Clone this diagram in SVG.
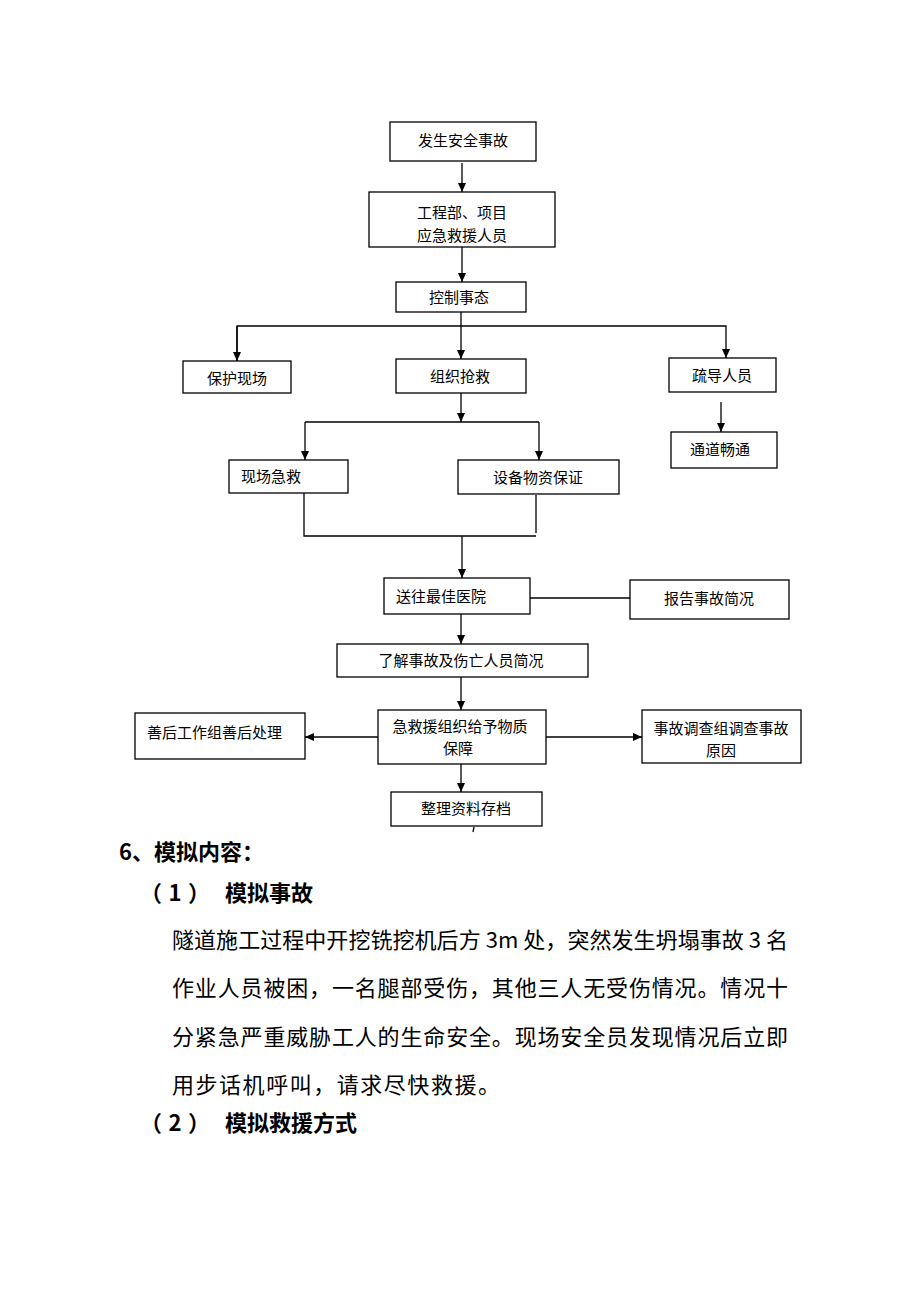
<svg xmlns="http://www.w3.org/2000/svg" width="920" height="1302" viewBox="0 0 920 1302">
<style>
.box{fill:#fff;stroke:#000;stroke-width:1.3}
.t{font-family:"Liberation Sans","Noto Sans CJK SC",sans-serif;font-size:15px;fill:#000;text-anchor:middle;dominant-baseline:central}
.tl{font-family:"Liberation Sans","Noto Sans CJK SC",sans-serif;font-size:15px;fill:#000;dominant-baseline:central}
.c{fill:none;stroke:#000;stroke-width:1.3}
.h{font-family:"Noto Sans CJK SC",sans-serif;font-size:22px;font-weight:bold;fill:#000}
.p{font-family:"Noto Sans CJK SC",sans-serif;font-size:22px;fill:#000}
</style>
<defs>
<marker id="ah" markerWidth="10" markerHeight="10" refX="9" refY="5" orient="auto" markerUnits="userSpaceOnUse">
<path d="M0,1 L9,5 L0,9 Z" fill="#000"/>
</marker>
</defs>
<rect width="920" height="1302" fill="#fff"/>
<g id="connectors">
<line class="c" x1="462" y1="163" x2="462" y2="192" marker-end="url(#ah)"/>
<line class="c" x1="462" y1="247" x2="462" y2="282" marker-end="url(#ah)"/>
<line class="c" x1="461" y1="312" x2="461" y2="359" marker-end="url(#ah)"/>
<polyline class="c" points="237,361 237,326 726,326 726,358" marker-end="url(#ah)"/>
<line class="c" x1="237" y1="326" x2="237" y2="361" marker-end="url(#ah)"/>
<line class="c" x1="461" y1="393" x2="461" y2="422" marker-end="url(#ah)"/>
<polyline class="c" points="305,422 539,422"/>
<line class="c" x1="305" y1="422" x2="305" y2="460" marker-end="url(#ah)"/>
<line class="c" x1="539" y1="422" x2="539" y2="460" marker-end="url(#ah)"/>
<line class="c" x1="721" y1="402" x2="721" y2="432" marker-end="url(#ah)"/>
<polyline class="c" points="304,493 304,536 536,536"/>
<line class="c" x1="536" y1="495" x2="536" y2="533"/>
<line class="c" x1="462" y1="536" x2="462" y2="578" marker-end="url(#ah)"/>
<line class="c" x1="530" y1="598" x2="630" y2="598"/>
<line class="c" x1="461" y1="614" x2="461" y2="644" marker-end="url(#ah)"/>
<line class="c" x1="461" y1="677" x2="461" y2="710" marker-end="url(#ah)"/>
<line class="c" x1="378" y1="737" x2="305" y2="737" marker-end="url(#ah)"/>
<line class="c" x1="546" y1="737" x2="642" y2="737" marker-end="url(#ah)"/>
<line class="c" x1="461" y1="764" x2="461" y2="792" marker-end="url(#ah)"/>
<line class="c" x1="474" y1="827" x2="473" y2="832" stroke-width="1"/>
</g>
<g id="n1"><rect class="box" x="390" y="122" width="146" height="39"/><text class="t" x="463" y="140">发生安全事故</text></g>
<g id="n2"><rect class="box" x="369" y="192" width="186" height="55"/><text class="t" x="462" y="212">工程部、项目</text><text class="t" x="462" y="235">应急救援人员</text></g>
<g id="n3"><rect class="box" x="396" y="282" width="130" height="30"/><text class="t" x="459" y="297">控制事态</text></g>
<g id="n4"><rect class="box" x="183" y="361" width="108" height="32"/><text class="t" x="237" y="378">保护现场</text></g>
<g id="n5"><rect class="box" x="396" y="359" width="130" height="34"/><text class="t" x="460" y="376">组织抢救</text></g>
<g id="n6"><rect class="box" x="669" y="358" width="107" height="34"/><text class="t" x="722" y="375">疏导人员</text></g>
<g id="n7"><rect class="box" x="671" y="432" width="106" height="36"/><text class="t" x="720" y="449">通道畅通</text></g>
<g id="n8"><rect class="box" x="229" y="460" width="119" height="33"/><text class="t" x="271" y="476">现场急救</text></g>
<g id="n9"><rect class="box" x="458" y="460" width="161" height="34"/><text class="t" x="538" y="477">设备物资保证</text></g>
<g id="n10"><rect class="box" x="384" y="578" width="146" height="36"/><text class="tl" x="396" y="596">送往最佳医院</text></g>
<g id="n11"><rect class="box" x="630" y="580" width="159" height="39"/><text class="t" x="709" y="598">报告事故简况</text></g>
<g id="n12"><rect class="box" x="337" y="644" width="251" height="33"/><text class="t" x="461" y="660">了解事故及伤亡人员简况</text></g>
<g id="n13"><rect class="box" x="378" y="710" width="168" height="54"/><text class="t" x="460" y="726">急救援组织给予物质</text><text class="t" x="458" y="748">保障</text></g>
<g id="n14"><rect class="box" x="135" y="713" width="170" height="46"/><text class="tl" x="147" y="732">善后工作组善后处理</text></g>
<g id="n15"><rect class="box" x="642" y="710" width="159" height="53"/><text class="t" x="721" y="728">事故调查组调查事故</text><text class="t" x="721" y="750">原因</text></g>
<g id="n16"><rect class="box" x="391" y="792" width="151" height="34"/><text class="t" x="466" y="808">整理资料存档</text></g>
<g id="body">
<text class="h" x="119" y="860">6、模拟内容：</text>
<text class="h" x="140" y="901"><tspan textLength="70" lengthAdjust="spacing">（1）</tspan><tspan x="225">模拟事故</tspan></text>
<text class="p" x="172" y="948" textLength="616" lengthAdjust="spacing">隧道施工过程中开挖铣挖机后方 3m 处，突然发生坍塌事故 3 名</text>
<text class="p" x="172" y="996" textLength="616" lengthAdjust="spacing">作业人员被困，一名腿部受伤，其他三人无受伤情况。情况十</text>
<text class="p" x="172" y="1045" textLength="616" lengthAdjust="spacing">分紧急严重威胁工人的生命安全。现场安全员发现情况后立即</text>
<text class="p" x="172" y="1093" textLength="328" lengthAdjust="spacing">用步话机呼叫，请求尽快救援。</text>
<text class="h" x="140" y="1131"><tspan textLength="70" lengthAdjust="spacing">（2）</tspan><tspan x="225">模拟救援方式</tspan></text>
</g>
</svg>
